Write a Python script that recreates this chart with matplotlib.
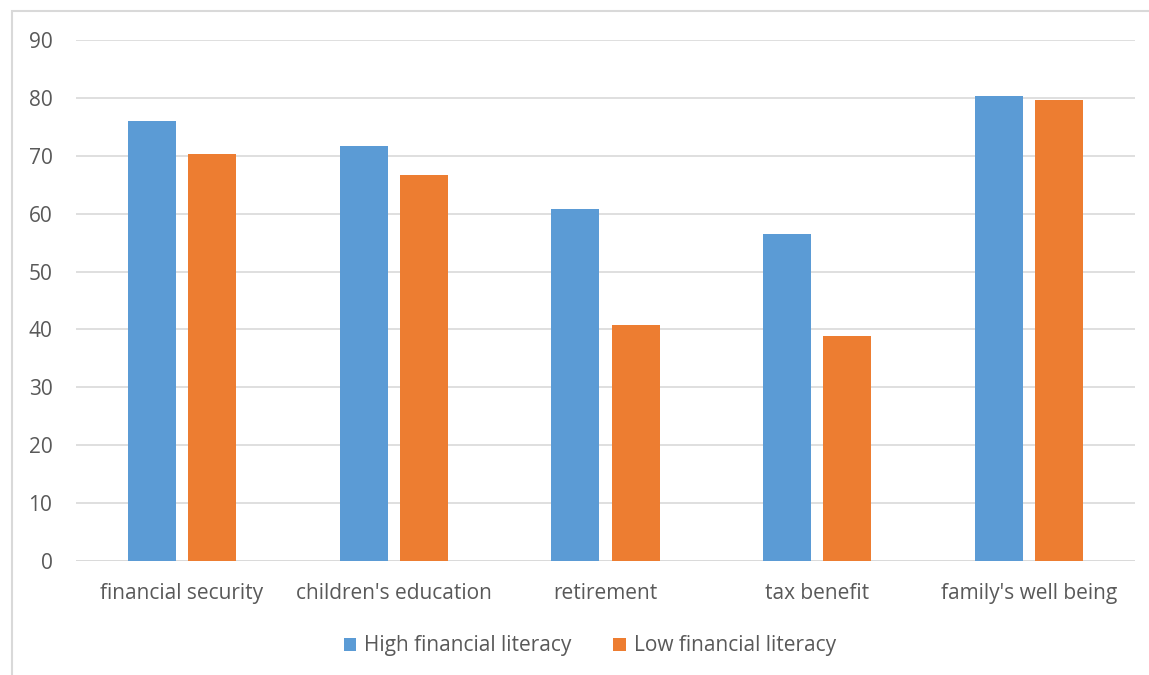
import numpy as np
import matplotlib
matplotlib.use("Agg")
import matplotlib.pyplot as plt
import matplotlib.patches as mpatches

categories = ["financial security", "children's education", "retirement", "tax benefit", "family's well being"]
high = [76.0, 71.7, 60.8, 56.5, 80.4]
low = [70.3, 66.7, 40.8, 38.9, 79.6]
series_names = ["High financial literacy", "Low financial literacy"]

plt.rcParams['font.family'] = ['Open Sans', 'DejaVu Sans']
txt = '#595959'
grid = '#D9D9D9'

fig = plt.figure(figsize=(11.49, 6.75), dpi=100)
ax = fig.add_axes([76/1149, 1-561/675, (1135-76)/1149, (561-40)/675])

x = np.arange(len(categories))
w = 0.227
ax.bar(x - 0.142, high, w, color='#5B9BD5', label=series_names[0], zorder=3)
ax.bar(x + 0.142, low, w, color='#ED7D31', label=series_names[1], zorder=3)

ax.set_xlim(-0.5, len(categories) - 0.5)
ax.set_ylim(0, 90)
ax.set_yticks(range(0, 91, 10))
ax.set_xticks(x)
ax.set_xticklabels(categories)
ax.yaxis.grid(True, color=grid, linewidth=1.2, zorder=0)
for s in ax.spines.values():
    s.set_visible(False)
ax.tick_params(axis='both', length=0, labelsize=15, labelcolor=txt)
ax.tick_params(axis='y', pad=17)
ax.tick_params(axis='x', pad=16)
ax.axhline(0, color=grid, linewidth=1.2, zorder=1)

leg = fig.legend(loc='center', bbox_to_anchor=(590/1149, 1-646/675), ncol=2, frameon=False,
                 fontsize=15, handlelength=0.6, handleheight=0.6, columnspacing=2.0, handletextpad=0.4)
for t in leg.get_texts():
    t.set_color(txt)

fig.patches.append(mpatches.Rectangle((12/1149, -0.1), 1.2, 1-11/675+0.1, transform=fig.transFigure,
                                      fill=False, edgecolor=grid, linewidth=1.5))

fig.savefig('out.png', dpi=100)
